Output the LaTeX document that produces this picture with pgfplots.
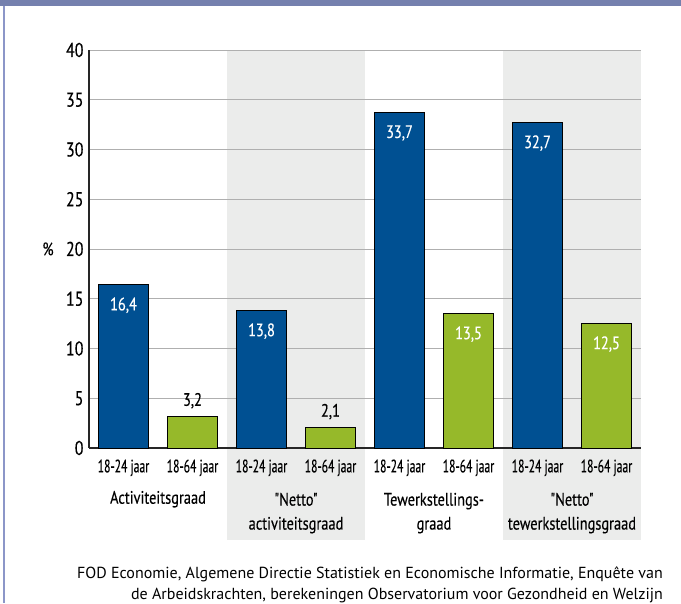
\documentclass[border=0pt]{standalone}
\usepackage{pgfplots}
\pgfplotsset{compat=1.18}
\usepackage{fontspec}
\setmainfont{PT Sans}[FakeStretch=0.65, FakeBold=0.3]
\newfontfamily\grpfont{PT Sans}[FakeStretch=0.8, FakeBold=0.3]
\newfontfamily\srcfont{PT Sans}
\definecolor{barblue}{RGB}{0,80,146}
\definecolor{bargreen}{RGB}{150,185,42}
\definecolor{bandgray}{RGB}{235,236,235}
\definecolor{framebar}{RGB}{117,128,174}
\definecolor{frameline}{RGB}{140,150,200}
\definecolor{gridgray}{RGB}{175,175,175}
\newcommand{\lblfont}{\fontsize{18}{24}\selectfont}
\newcommand{\grplbl}{\grpfont\fontsize{18}{24}\selectfont}
\newcommand{\yfont}{\grpfont\fontsize{20}{24}\selectfont}

\begin{document}
\begin{tikzpicture}
\path (0,0) rectangle (681pt,603pt);
\fill[framebar] (0,597pt) rectangle (681pt,603pt);
\draw[frameline, line width=1.2pt] (4pt,0) -- (4pt,597pt);
\begin{axis}[
  set layers,
  at={(89pt,155pt)}, anchor=south west,
  scale only axis, width=552pt, height=398pt,
  xmin=0, xmax=8, ymin=0, ymax=40,
  axis x line=bottom, axis y line=left,
  axis line style={-, line width=1.3pt, black!85},
  ytick={0,5,...,40},
  xtick={0.5,1.5,...,7.5},
  xticklabels={18-24 jaar,18-64 jaar,18-24 jaar,18-64 jaar,18-24 jaar,18-64 jaar,18-24 jaar,18-64 jaar},
  major tick length=0pt,
  ymajorgrids, grid style={gridgray, line width=0.9pt},
  /pgf/number format/assume math mode=true,
  xticklabel style={font=\lblfont, yshift=-8pt},
  yticklabel style={font=\yfont, xshift=-2pt},
  ybar, bar width=50pt, bar shift=0pt,
  clip=false,
  nodes near coords={\pgfmathprintnumber[fixed, fixed zerofill, precision=1, use comma, assume math mode=true]{\pgfplotspointmeta}},
  nodes near coords style={font=\grplbl},
]
\begin{pgfonlayer}{axis background}
  \fill[bandgray] (axis cs:2,-9.25) rectangle (axis cs:4,40);
  \fill[bandgray] (axis cs:6,-9.25) rectangle (axis cs:8,40);
\end{pgfonlayer}

% 18-24 jaar
\addplot[fill=barblue, draw=black, line width=0.7pt,
  every node near coord/.append style={anchor=north, text=white, yshift=-9pt}]
  coordinates {(0.5,16.4)(2.5,13.8)(4.5,33.7)(6.5,32.7)};
% 18-64 jaar, label boven de balk
\addplot[fill=bargreen, draw=black, line width=0.7pt,
  every node near coord/.append style={anchor=south, text=black, yshift=4pt}]
  coordinates {(1.5,3.2)(3.5,2.1)};
% 18-64 jaar, label in de balk
\addplot[fill=bargreen, draw=black, line width=0.7pt,
  every node near coord/.append style={anchor=north, text=white, yshift=-9pt}]
  coordinates {(5.5,13.5)(7.5,12.5)};

\node[anchor=base, align=center, font=\grplbl] at (axis cs:1,-5.6) {Activiteitsgraad};
\node[anchor=base, align=center, font=\grplbl] at (axis cs:3,-8.2) {"Netto"\\activiteitsgraad};
\node[anchor=base, align=center, font=\grplbl] at (axis cs:5,-8.2) {Tewerkstellings-\\graad};
\node[anchor=base, align=center, font=\grplbl] at (axis cs:7,-8.2) {"Netto"\\tewerkstellingsgraad};
\node[font=\grplbl] at (rel axis cs:0,0.5) [xshift=-41pt] {\%};
\end{axis}
\node[anchor=base east, inner sep=0, font=\srcfont\fontsize{16}{21}\selectfont] at (663pt,24pt)
  {FOD Economie, Algemene Directie Statistiek en Economische Informatie, Enquête van};
\node[anchor=base east, inner sep=0, font=\srcfont\fontsize{16}{21}\selectfont] at (663pt,3pt)
  {de Arbeidskrachten, berekeningen Observatorium voor Gezondheid en Welzijn};
\end{tikzpicture}
\end{document}
